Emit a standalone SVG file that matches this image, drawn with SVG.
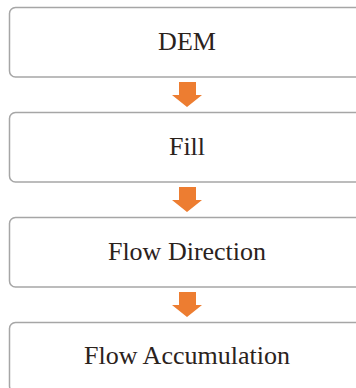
<svg xmlns="http://www.w3.org/2000/svg" width="356" height="388" viewBox="0 0 356 388">
<style>
.box{fill:#fff;stroke:#a6a6a6;stroke-width:1.5}
.lbl{font-family:"Liberation Serif","DejaVu Serif",serif;font-size:26px;fill:#2b221c;text-anchor:middle}
.arr{fill:#ed7d31}
</style>
<rect width="356" height="388" fill="#fff"/>
<g id="n1"><rect class="box" x="9.5" y="7.5" width="360" height="69.5" rx="6"/><text class="lbl" x="187" y="50">DEM</text></g>
<g id="n2"><rect class="box" x="9.5" y="112.5" width="360" height="69.5" rx="6"/><text class="lbl" x="187" y="155">Fill</text></g>
<g id="n3"><rect class="box" x="9.5" y="217.5" width="360" height="69.5" rx="6"/><text class="lbl" x="187" y="260">Flow Direction</text></g>
<g id="n4"><rect class="box" x="9.5" y="322.5" width="360" height="69.5" rx="6"/><text class="lbl" x="187" y="364">Flow Accumulation</text></g>
<g id="connectors">
<polygon class="arr" points="179,82 196,82 196,95 202,95 187,107 172,95 179,95"/>
<polygon class="arr" points="179,187 196,187 196,200 202,200 187,212 172,200 179,200"/>
<polygon class="arr" points="179,292 196,292 196,305 202,305 187,317 172,305 179,305"/>
</g>
</svg>
